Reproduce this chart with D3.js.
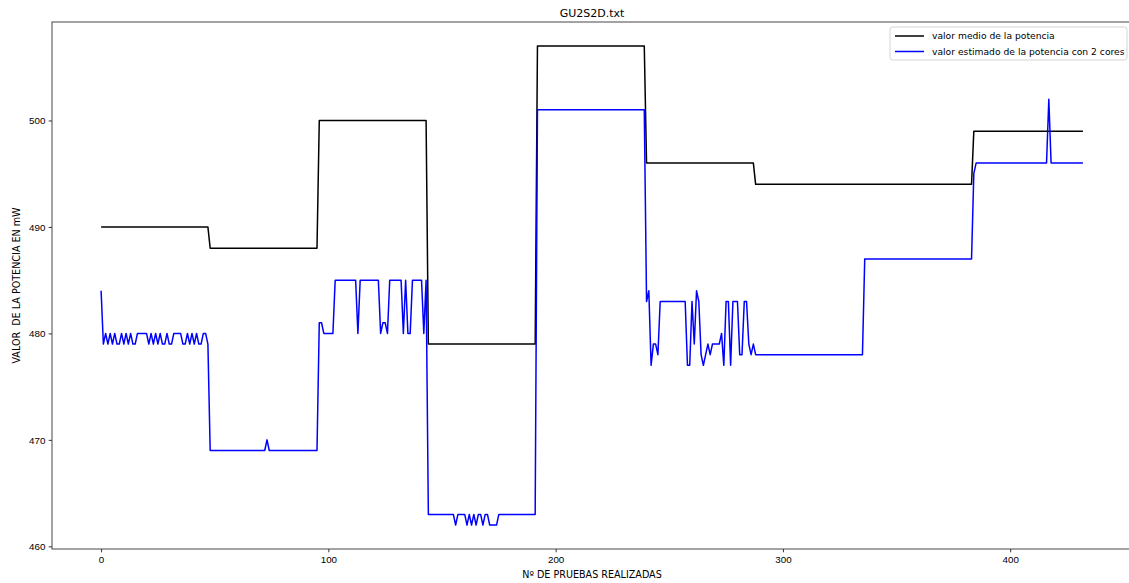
<!DOCTYPE html>
<html lang="en">
<head>
<meta charset="utf-8">
<title>GU2S2D.txt</title>
<script src="https://d3js.org/d3.v7.min.js"></script>
<style>
  body { margin: 0; background: #fff; }
  svg { display: block; font-family: "DejaVu Sans", sans-serif; }
  .tick text { font-size: 9.8px; fill: #000; }
</style>
</head>
<body>
<div id="my_dataviz"></div>
<script>

// step levels of the mean power, as [value, how many samples]
var mediaRuns = [[490,48],[488,48],[500,48],[479,48],[507,48],[496,48],[494,96],[499,49]];

// estimated power with 2 cores, as [value, how many samples]
var estimadoRuns = [
  // 0 - 47
  [484,1],[479,1],[480,1],[479,1],[480,1],[479,1],[480,1],[479,2],[480,1],[479,1],[480,1],[479,1],
  [480,1],[479,2],[480,5],[479,1],[480,1],[479,1],[480,1],[479,1],[480,1],[479,2],[480,1],[479,2],
  [480,4],[479,2],[480,1],[479,1],[480,1],[479,1],[480,1],[479,2],[480,2],[479,1],
  // 48 - 95
  [469,25],[470,1],[469,22],
  // 96 - 143
  [481,2],[480,5],[485,10],[480,1],[485,9],[480,1],[481,2],[480,1],[485,6],[480,1],[485,1],[480,2],
  [485,5],[480,1],[485,1],
  // 144 - 191
  [463,12],[462,1],[463,4],[462,1],[463,1],[462,1],[463,1],[462,1],[463,2],[462,1],[463,2],[462,4],[463,17],
  // 192 - 239
  [501,48],
  // 240 - 287
  [483,1],[484,1],[477,1],[479,2],[478,1],[483,12],[477,2],[483,1],[479,1],[484,1],[483,1],[478,1],
  [477,1],[478,1],[479,1],[478,1],[479,4],[480,1],[477,1],[483,2],[477,1],[483,3],[478,2],[483,2],
  [479,1],[478,1],[479,1],
  // 288 - 383
  [478,48],[487,48],
  // 384 - 432
  [495,1],[496,32],[502,1],[496,15]
];

var xTicks = [0, 100, 200, 300, 400];
var yTicks = [460, 470, 480, 490, 500];

var seriesNames = ["valor medio de la potencia", "valor estimado de la potencia con 2 cores"];
var seriesColors = ["#000000", "#0000ff"];

function expand(runs) {
  var out = [];
  runs.forEach(function(r) { for (var k = 0; k < r[1]; k++) out.push(r[0]); });
  return out;
}

var media = expand(mediaRuns);
var estimado = expand(estimadoRuns);

// set the dimensions and margins of the graph
var margin = {top: 22, right: -3, bottom: 34, left: 52},
    width = 1129 - margin.left - margin.right,
    height = 583 - margin.top - margin.bottom;

var svg = d3.select("#my_dataviz")
  .append("svg")
    .attr("width", 1129)
    .attr("height", 583);

var g = svg.append("g")
  .attr("transform", "translate(" + margin.left + "," + margin.top + ")");

// matplotlib style 5% autoscale margins
var n = media.length;
var xPad = 0.05 * (n - 1);
var all = media.concat(estimado);
var yMin = d3.min(all), yMax = d3.max(all);
var yPad = 0.05 * (yMax - yMin);

var x = d3.scaleLinear()
  .domain([-xPad, n - 1 + xPad])
  .range([0, width]);

var y = d3.scaleLinear()
  .domain([yMin - yPad, yMax + yPad])
  .range([height, 0]);

// X axis
g.append("g")
  .attr("transform", "translate(0," + height + ")")
  .call(d3.axisBottom(x).tickValues(xTicks).tickSize(3.3).tickPadding(3.3).tickFormat(d3.format("d")))
  .call(function(a) { a.select(".domain").remove(); })
  .call(function(a) { a.selectAll("line").attr("stroke", "#000").attr("stroke-width", 0.8); });

// Y axis
g.append("g")
  .call(d3.axisLeft(y).tickValues(yTicks).tickSize(3.3).tickPadding(3.3).tickFormat(d3.format("d")))
  .call(function(a) { a.select(".domain").remove(); })
  .call(function(a) { a.selectAll("line").attr("stroke", "#000").attr("stroke-width", 0.8); });

// lines
var line = d3.line()
  .x(function(d, i) { return x(i); })
  .y(function(d) { return y(d); });

[media, estimado].forEach(function(s, k) {
  g.append("path")
    .datum(s)
    .attr("fill", "none")
    .attr("stroke", seriesColors[k])
    .attr("stroke-width", 1.5)
    .attr("stroke-linejoin", "round")
    .attr("d", line);
});

// frame
g.append("rect")
  .attr("x", 0)
  .attr("y", 0)
  .attr("width", width)
  .attr("height", height)
  .attr("fill", "none")
  .attr("stroke", "#333")
  .attr("stroke-width", 0.9);

// title and labels
svg.append("text")
  .attr("x", margin.left + width / 2)
  .attr("y", 17)
  .attr("text-anchor", "middle")
  .style("font-size", "11px")
  .text("GU2S2D.txt");

svg.append("text")
  .attr("x", margin.left + width / 2)
  .attr("y", 578)
  .attr("text-anchor", "middle")
  .style("font-size", "9.6px")
  .text("Nº DE PRUEBAS REALIZADAS");

svg.append("text")
  .attr("transform", "translate(20," + (margin.top + height / 2) + ")rotate(-90)")
  .attr("text-anchor", "middle")
  .style("font-size", "9.6px")
  .style("white-space", "pre")
  .text("VALOR  DE LA POTENCIA EN mW");

// legend
var legend = svg.append("g").attr("transform", "translate(890,27)");
legend.append("rect")
  .attr("width", 237)
  .attr("height", 33)
  .attr("rx", 2.5)
  .attr("fill", "#fff")
  .attr("fill-opacity", 0.8)
  .attr("stroke", "#d0d0d0")
  .attr("stroke-width", 0.9);

seriesNames.forEach(function(name, k) {
  var yy = 9 + k * 15.5;
  legend.append("line")
    .attr("x1", 5).attr("x2", 34)
    .attr("y1", yy).attr("y2", yy)
    .attr("stroke", seriesColors[k])
    .attr("stroke-width", 1.5);
  legend.append("text")
    .attr("x", 42)
    .attr("y", yy + 3.3)
    .style("font-size", "9.2px")
    .text(name);
});

</script>
</body>
</html>
